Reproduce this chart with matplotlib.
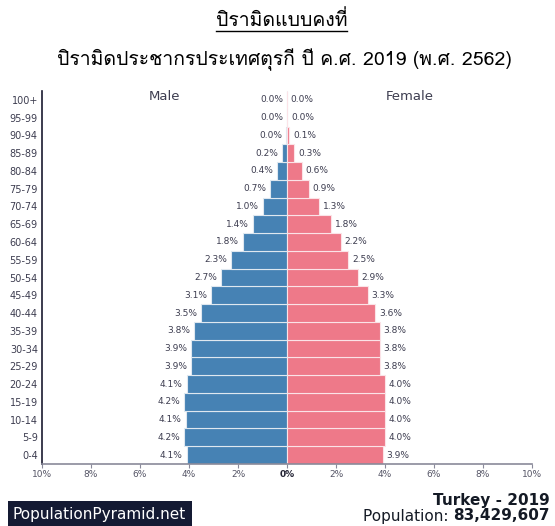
import matplotlib
matplotlib.use('Agg')
import matplotlib.pyplot as plt
from matplotlib import font_manager
from matplotlib.ft2font import FT2Font
from matplotlib.lines import Line2D
import numpy as np

ages = ['0-4', '5-9', '10-14', '15-19', '20-24', '25-29', '30-34', '35-39',
        '40-44', '45-49', '50-54', '55-59', '60-64', '65-69', '70-74',
        '75-79', '80-84', '85-89', '90-94', '95-99', '100+']
male = [4.1, 4.2, 4.14, 4.2, 4.1, 3.9, 3.9, 3.8, 3.5, 3.1, 2.7, 2.3, 1.8,
        1.4, 1.0, 0.7, 0.4, 0.2, 0.04, 0.01, 0.0]
female = [3.9, 4.0, 4.0, 4.0, 4.0, 3.8, 3.8, 3.8, 3.6, 3.3, 2.9, 2.5, 2.2,
          1.8, 1.3, 0.9, 0.6, 0.3, 0.1, 0.02, 0.0]
xticks = [-10, -8, -6, -4, -2, 0, 2, 4, 6, 8, 10]

title1 = 'ปิรามิดแบบคงที่'
title2 = 'ปิรามิดประชากรประเทศตุรกี ปี ค.ศ. 2019 (พ.ศ. 2562)'

# find some font with thai glyphs, if there is one
thai_font = 'DejaVu Sans'
for f in font_manager.fontManager.ttflist:
    try:
        if 0x0E1B in FT2Font(f.fname).get_charmap():
            thai_font = f.name
            break
    except Exception:
        pass

male_col = '#4682b4'
female_col = '#ee7989'
txt_col = '#3d3d50'

fig = plt.figure(figsize=(5.55, 5.26), dpi=100)
ax = fig.add_axes([42/555, 1-464/526, 490/555, 373/526])

y = np.arange(len(ages))
ax.barh(y, [-m for m in male], height=1.0, color=male_col, edgecolor='#dfe8f0', linewidth=0.8)
ax.barh(y, female, height=1.0, color=female_col, edgecolor='#fbe3e7', linewidth=0.8)

for i in range(len(ages)):
    ax.text(-male[i] - 0.15, y[i], '%.1f%%' % male[i], ha='right', va='center',
            fontsize=6.5, color=txt_col)
    ax.text(female[i] + 0.15, y[i], '%.1f%%' % female[i], ha='left', va='center',
            fontsize=6.5, color=txt_col)

ax.set_xlim(-10, 10)
ax.set_ylim(-0.5, len(ages) - 0.5)
ax.set_yticks(y)
ax.set_yticklabels(ages, fontsize=7, color=txt_col)
ax.set_xticks(xticks)
ax.set_xticklabels(['%d%%' % abs(t) for t in xticks], fontsize=6.5, color='#555566')
ax.get_xticklabels()[5].set_fontweight('bold')
ax.get_xticklabels()[5].set_color('#222233')
ax.tick_params(axis='y', length=0, pad=3)
ax.tick_params(axis='x', length=3, color='#8a8a9a', pad=1.5)

for s in ['top', 'right']:
    ax.spines[s].set_visible(False)
ax.spines['left'].set_color('#1a1a30')
ax.spines['left'].set_linewidth(1.2)
ax.spines['bottom'].set_color('#8a8a9a')
ax.spines['bottom'].set_linewidth(1.2)

ax.text(-5, 20.2, 'Male', ha='center', va='center', fontsize=9.5, color=txt_col)
ax.text(5, 20.2, 'Female', ha='center', va='center', fontsize=9.5, color=txt_col)

t1 = fig.text(0.507, 1-20/526, title1, ha='center', va='center', fontsize=14,
              family=[thai_font, 'DejaVu Sans'], color='black')
fig.text(0.513, 1-60/526, title2, ha='center', va='center', fontsize=14,
         family=[thai_font, 'DejaVu Sans'], color='black')

# footer
fig.text(13/555, 1-514/526, 'PopulationPyramid.net', ha='left', va='center',
         fontsize=11, color='white',
         bbox=dict(boxstyle='square,pad=0.35', facecolor='#141a33', edgecolor='none'))
fig.text(550/555, 1-500/526, 'Turkey - 2019', ha='right', va='center',
         fontsize=11, fontweight='bold', color='#141a25')
num = fig.text(550/555, 1-516/526, '83,429,607', ha='right', va='center',
               fontsize=11, fontweight='bold', color='#141a25')

fig.canvas.draw()
r = fig.canvas.get_renderer()
bb = num.get_window_extent(r)
fig.text(bb.x0 / fig.bbox.width, 1-516/526, 'Population: ', ha='right', va='center',
         fontsize=11, color='#141a25')

# underline the first title
bb1 = t1.get_window_extent(r)
yl = (bb1.y0 - 1) / fig.bbox.height
fig.add_artist(Line2D([bb1.x0 / fig.bbox.width, bb1.x1 / fig.bbox.width], [yl, yl],
                      color='black', linewidth=1))

plt.savefig('out.png', dpi=100)
